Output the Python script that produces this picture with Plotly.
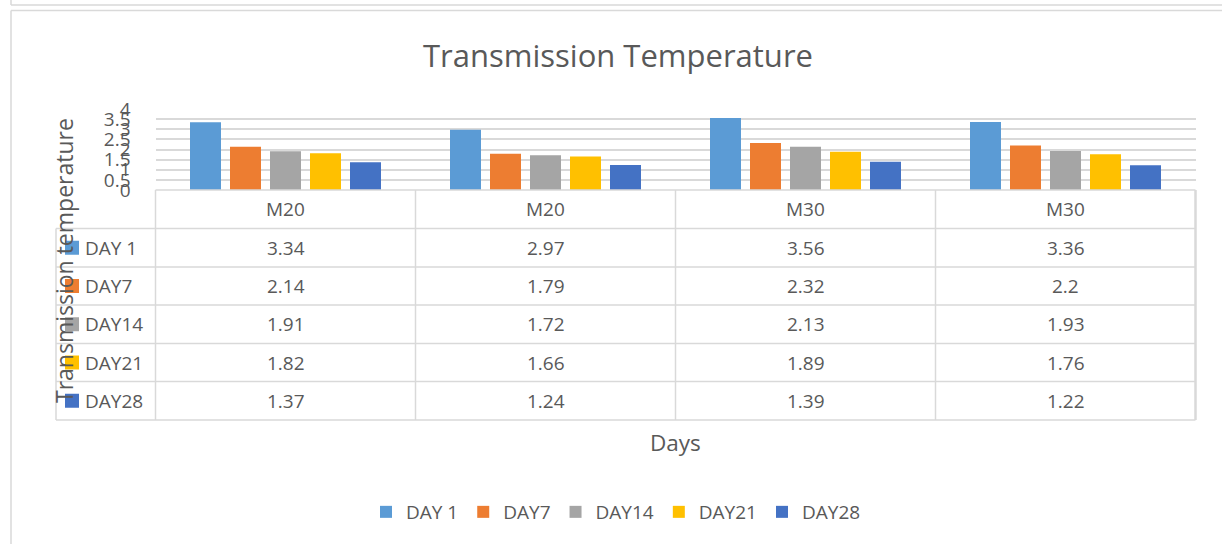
import plotly.graph_objects as go

categories = ["M20", "M20", "M30", "M30"]
series_names = ["DAY 1", "DAY7", "DAY14", "DAY21", "DAY28"]
day1 = [3.34, 2.97, 3.56, 3.36]
day7 = [2.14, 1.79, 2.32, 2.2]
day14 = [1.91, 1.72, 2.13, 1.93]
day21 = [1.82, 1.66, 1.89, 1.76]
day28 = [1.37, 1.24, 1.39, 1.22]
series_values = [day1, day7, day14, day21, day28]
colors = ["#5B9BD5", "#ED7D31", "#A5A5A5", "#FFC000", "#4472C4"]
y_ticks = [0, 0.5, 1, 1.5, 2, 2.5, 3, 3.5, 4]

W, H = 1222, 544
FONT = "Open Sans"
TXT = "#595959"
GRID = "#D9D9D9"


def px(x):
    return x / W


def py(y):
    return 1 - y / H


# layout geometry (pixels)
PL, PR, PT, PB = 155.5, 1195.5, 109, 190
row_edges = [190, 228.5, 267, 305, 343.5, 381.5, 420]
TL = 56  # table left edge

fig = go.Figure()
xs = list(range(len(categories)))
for name, vals, col in zip(series_names, series_values, colors):
    fig.add_trace(go.Bar(x=xs, y=vals, name=name, marker=dict(color=col, line=dict(width=0))))

shapes = []
ann = []


def hline(y, x0, x1, w=1.5):
    shapes.append(dict(type="line", xref="paper", yref="paper", x0=px(x0), x1=px(x1),
                       y0=py(y), y1=py(y), line=dict(color=GRID, width=w)))


def vline(x, y0, y1, w=1.5):
    shapes.append(dict(type="line", xref="paper", yref="paper", x0=px(x), x1=px(x),
                       y0=py(y0), y1=py(y1), line=dict(color=GRID, width=w)))


def text(x, y, s, size, xref="paper", xanchor="center", angle=0):
    ann.append(dict(x=x, xref=xref, y=py(y), yref="paper", text=s, showarrow=False,
                    xanchor=xanchor, yanchor="middle", textangle=angle,
                    font=dict(family=FONT, size=size, color=TXT)))


# outer chart frames
hline(5, 11, W + 5)
vline(11, -5, 5)
hline(10.5, 11, W + 5)
vline(11, 10.5, H + 5)

# table grid
hline(row_edges[0], PL, PR)
for y in row_edges[1:]:
    hline(y, TL, PR)
vline(TL, row_edges[1], row_edges[-1])
col_w = (PR - PL) / len(categories)
for i in range(len(categories) + 1):
    vline(PL + i * col_w, row_edges[0], row_edges[-1], w=2.5 if i == len(categories) else 1.5)

# header row (categories)
for i, c in enumerate(categories):
    text(i, (row_edges[0] + row_edges[1]) / 2, c, 19, xref="x")

# data rows
for r, (name, vals, col) in enumerate(zip(series_names, series_values, colors)):
    yc = (row_edges[r + 1] + row_edges[r + 2]) / 2
    shapes.append(dict(type="rect", xref="paper", yref="paper", x0=px(65), x1=px(79),
                       y0=py(yc + 7), y1=py(yc - 7), fillcolor=col, line=dict(width=0)))
    text(px(83), yc, name, 19, xanchor="left")
    for i, v in enumerate(vals):
        text(i, yc, f"{v:g}", 19, xref="x")

# titles
text(px(618), 55, "Transmission Temperature", 31)
text(px(675.5), 442, "Days", 22.5)
text(px(64), 261, "Transmission temperature", 23, angle=-90)

fig.update_layout(
    width=W, height=H, autosize=False,
    margin=dict(l=0, r=0, t=0, b=0, pad=0),
    paper_bgcolor="white", plot_bgcolor="white",
    barmode="group", bargap=0.2308, bargroupgap=0.225,
    font=dict(family=FONT, color=TXT),
    xaxis=dict(domain=[px(PL), px(PR)], range=[-0.5, 3.5], showticklabels=False,
               showgrid=False, zeroline=False, showline=False, ticks="", automargin=False),
    yaxis=dict(domain=[py(PB), py(PT)], range=[0, 4], tickmode="array", tickvals=y_ticks,
               ticktext=[f"{t:g}" for t in y_ticks], showgrid=True, gridcolor=GRID, gridwidth=1.5,
               zeroline=False, showline=False, ticks="", ticklabelstandoff=24, automargin=False,
               tickfont=dict(family=FONT, size=19, color=TXT)),
    legend=dict(orientation="h", x=0.5 + 5 / W, xanchor="center", y=py(512), yanchor="middle",
                font=dict(family=FONT, size=19, color=TXT), traceorder="normal",
                bgcolor="rgba(0,0,0,0)"),
    shapes=shapes, annotations=ann,
)

fig.write_html("out.html", config={"displayModeBar": False},
               post_script="document.body.style.margin='0';")
